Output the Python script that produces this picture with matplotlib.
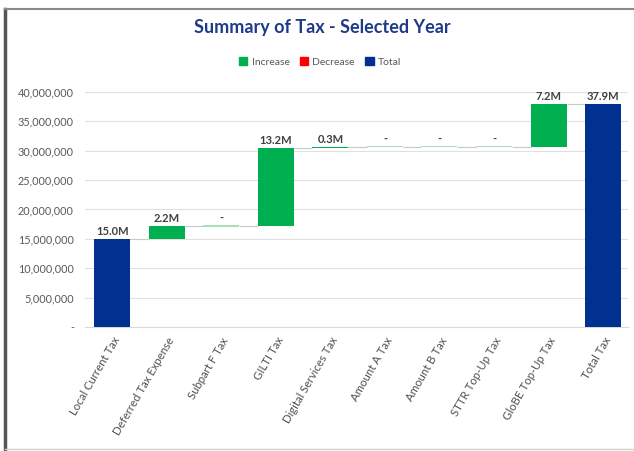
import numpy as np
import matplotlib.pyplot as plt
from matplotlib.patches import Rectangle

categories = ["Local Current Tax", "Deferred Tax Expense", "Subpart F Tax", "GILTI Tax",
              "Digital Services Tax", "Amount A Tax", "Amount B Tax", "STTR Top-Up Tax",
              "GloBE Top-Up Tax", "Total Tax"]
values = [15.0e6, 2.2e6, 0.0, 13.2e6, 0.3e6, 0.0, 0.0, 0.0, 7.2e6, 37.9e6]
kinds = ["total", "inc", "inc", "inc", "inc", "inc", "inc", "inc", "inc", "total"]
value_labels = ["15.0M", "2.2M", "-", "13.2M", "0.3M", "-", "-", "-", "7.2M", "37.9M"]

green = "#00b050"
red = "#ff0000"
navy = "#003090"
zero_green = "#a6e0b8"

plt.rcParams['font.family'] = ['Lato', 'DejaVu Sans']

fig = plt.figure(figsize=(6.34, 4.51), dpi=100)
ax = fig.add_axes([0.134, 0.275, 0.856, 0.521])

x = np.arange(len(categories))
w = 0.66
bottoms = []
running = 0.0
for v, k in zip(values, kinds):
    if k == "total":
        bottoms.append(0.0)
        running = v
    else:
        bottoms.append(running)
        running += v

for i, (v, b, k) in enumerate(zip(values, bottoms, kinds)):
    if k == "total":
        ax.bar(x[i], v, w, bottom=0, color=navy, zorder=3)
        top = v
    elif v == 0:
        ax.bar(x[i], 0.2e6, w, bottom=b - 0.1e6, color=zero_green, zorder=3)
        top = b
    else:
        ax.bar(x[i], v, w, bottom=b, color=green if v > 0 else red, zorder=3)
        top = b + v
    ax.text(x[i], top + 0.35e6, value_labels[i], ha="center", va="bottom",
            fontsize=8, fontweight="bold", color="#404040", zorder=4)

# connector lines
for i in range(len(values) - 1):
    level = bottoms[i] + values[i] if kinds[i] != "total" else values[i]
    ax.hlines(level, x[i] + w / 2, x[i + 1] - w / 2, color="#c8c8c8", lw=0.8, zorder=2)

ax.set_xlim(-0.5, 9.45)
ax.set_ylim(0, 40e6)
ax.set_yticks(np.arange(0, 40e6 + 1, 5e6))
ax.set_yticklabels(["-"] + [f"{int(t):,}" for t in np.arange(5e6, 40e6 + 1, 5e6)])
ax.set_xticks(x)
ax.set_xticklabels(categories, rotation=60, ha="right", rotation_mode="anchor")
ax.tick_params(axis="y", length=0, labelsize=7.8, labelcolor="#595959", pad=8)
ax.tick_params(axis="x", length=0, labelsize=8.2, labelcolor="#505050", pad=6)
ax.grid(axis="y", color="#e0e0e0", lw=0.8, zorder=0)
for s in ax.spines.values():
    s.set_visible(False)
ax.spines["bottom"].set_visible(True)
ax.spines["bottom"].set_color("#d9d9d9")

fig.text(0.508, 0.94, "Summary of Tax - Selected Year", ha="center", va="center",
         fontsize=13, fontweight="bold", color="#1f3a88")

handles = [Rectangle((0, 0), 1, 1, color=green), Rectangle((0, 0), 1, 1, color=red),
           Rectangle((0, 0), 1, 1, color=navy)]
fig.legend(handles, ["Increase", "Decrease", "Total"], loc="center", bbox_to_anchor=(0.505, 0.862),
           ncol=3, frameon=False, fontsize=7.5, labelcolor="#595959", handlelength=0.8,
           handleheight=0.8, handletextpad=0.4, columnspacing=1.0)

# screenshot frame
fig.add_artist(plt.Line2D([0.008, 0.008], [0.0, 0.98], transform=fig.transFigure, color="#555555", lw=2.5))
fig.add_artist(plt.Line2D([0.008, 1.0], [0.98, 0.98], transform=fig.transFigure, color="#8a8a8a", lw=1.5))
fig.add_artist(plt.Line2D([0.008, 1.0], [0.005, 0.005], transform=fig.transFigure, color="#d0d0d0", lw=1))

fig.savefig("out.png", dpi=100)
